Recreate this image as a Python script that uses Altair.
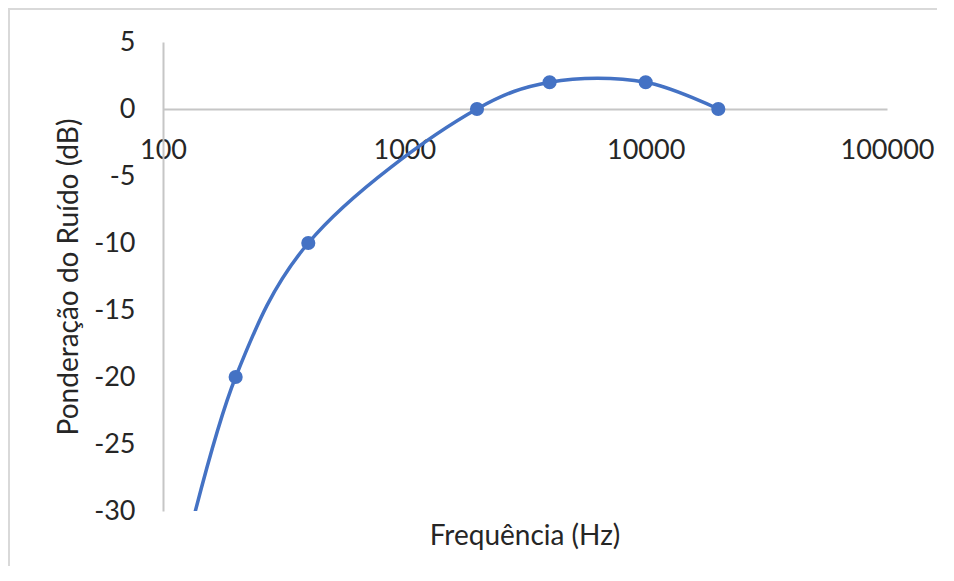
import altair as alt
import pandas as pd

# Data
freq = [100, 200, 400, 2000, 4000, 10000, 20000]
weight = [-40, -20, -10, 0, 2, 2, 0]
marker_freq = [200, 400, 2000, 4000, 10000, 20000]
marker_weight = [-20, -10, 0, 2, 2, 0]
x_ticks = [100, 1000, 10000, 100000]
y_ticks = [-30, -25, -20, -15, -10, -5, 0, 5]
x_title = "Frequência (Hz)"
y_title = "Ponderação do Ruído (dB)"

FONT = "Lato"
TXT = "#262626"
BLUE = "#4472C4"
AXIS = "#c6c6c6"
LS = 27
TS = 28

line_df = pd.DataFrame({"f": freq, "w": weight})
pt_df = pd.DataFrame({"f": marker_freq, "w": marker_weight})

W, H = 724, 469

xs = alt.Scale(type="log", domain=[100, 100000])
ys = alt.Scale(domain=[-30, 5], nice=False, zero=False)

x_axis = alt.Axis(values=x_ticks, labelExpr="'' + datum.value", title=None, grid=False, ticks=False,
                  domainColor=AXIS, domainWidth=2, offset=-402, labelPadding=28,
                  labelFontSize=LS, labelFont=FONT, labelColor=TXT, labelFlush=False,
                  labelOverlap=False)
y_axis = alt.Axis(values=y_ticks, labelExpr="'' + datum.value", title=y_title, grid=False, ticks=False,
                  domainColor=AXIS, domainWidth=2, labelPadding=28,
                  labelFontSize=LS, labelFont=FONT, labelColor=TXT,
                  titleFontSize=TS, titleFont=FONT, titleColor=TXT, titleFontWeight="normal",
                  titlePadding=10)

line = alt.Chart(line_df).mark_line(interpolate="catmull-rom", color=BLUE, strokeWidth=3.5, clip=True).encode(
    x=alt.X("f:Q", scale=xs, axis=x_axis),
    y=alt.Y("w:Q", scale=ys, axis=y_axis),
)
pts = alt.Chart(pt_df).mark_circle(color=BLUE, size=200, opacity=1).encode(
    x=alt.X("f:Q", scale=xs),
    y=alt.Y("w:Q", scale=ys),
)

xtitle = alt.Chart(pd.DataFrame({"t": [x_title]})).mark_text(
    font=FONT, fontSize=TS, color=TXT, baseline="middle", align="center").encode(
    text="t:N", x=alt.value(W / 2), y=alt.value(H + 26))

border_top = alt.Chart(pd.DataFrame({"a": [0]})).mark_rule(color="#d9d9d9", strokeWidth=2).encode(
    x=alt.value(-155), x2=alt.value(900), y=alt.value(-33))
border_left = alt.Chart(pd.DataFrame({"a": [0]})).mark_rule(color="#d9d9d9", strokeWidth=2).encode(
    x=alt.value(-154), y=alt.value(-34), y2=alt.value(560))

chart = alt.layer(border_top, border_left, line, pts, xtitle).properties(
    width=W, height=H,
    autosize=alt.AutoSizeParams(type="none"),
    padding={"left": 155, "top": 34, "right": 50, "bottom": 55},
).configure_view(stroke=None)

chart.save("out.html", embed_options={"renderer": "svg", "actions": False})
